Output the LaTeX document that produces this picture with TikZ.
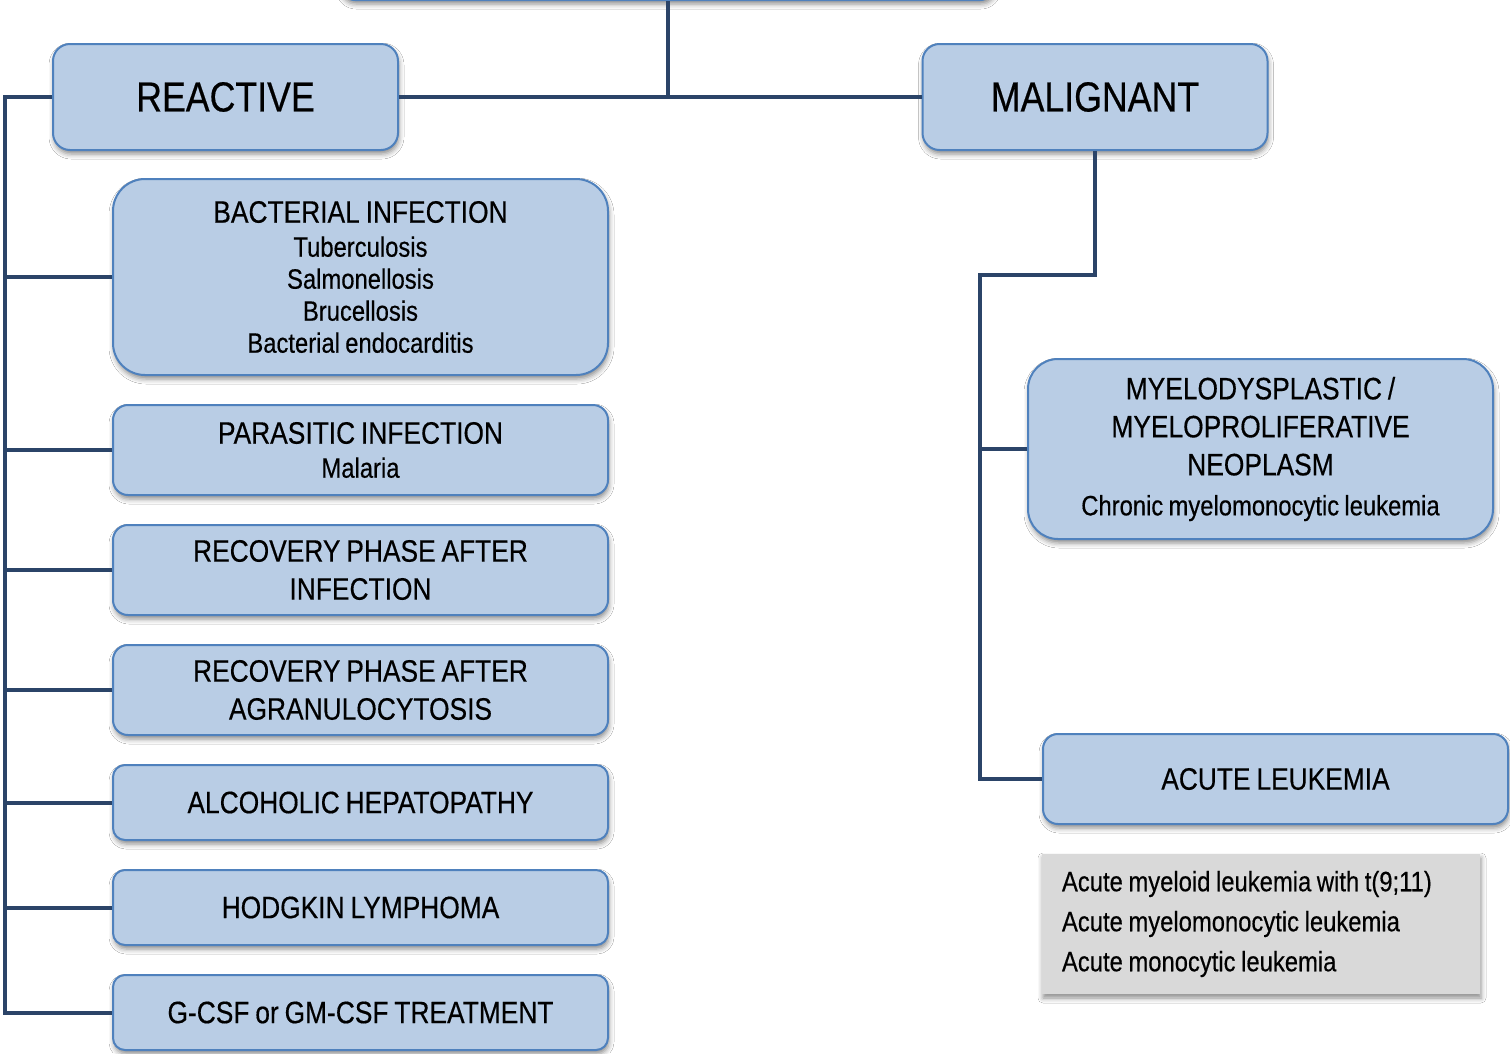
\documentclass[tikz,border=0pt]{standalone}
\usepackage{fontspec}
\setmainfont{Liberation Sans}[FakeStretch=0.85,WordSpace=0.8,FakeBold=0.4]
\usepackage{tikz}
\usetikzlibrary{positioning,calc,shadows.blur}
\definecolor{mFill}{HTML}{B9CDE5}
\definecolor{mEdge}{HTML}{4F81BD}
\definecolor{mLine}{HTML}{2B4468}
\definecolor{mGrey}{HTML}{D9D9D9}
\newcommand{\detailtext}[1]{{\fontsize{28}{32}\selectfont #1}}
\tikzset{
  shade/.style ={blur shadow={shadow xshift=1pt,shadow yshift=-4pt,shadow blur radius=5pt,shadow opacity=45}},
  cat/.style   ={rectangle,rounded corners=15pt,draw=mEdge,fill=mFill,line width=2pt,align=center,inner sep=2pt,shade},
  group/.style ={cat,minimum width=345pt,minimum height=106pt,rounded corners=17pt,font=\fontsize{42}{50}\selectfont},
  cause/.style ={cat,minimum width=495pt,font=\fontsize{31}{38}\selectfont},
  list/.style  ={rectangle,fill=mGrey,align=left,text width=398pt,minimum height=140pt,inner xsep=20pt,inner ysep=0pt,shade,
                 font=\fontsize{28}{40}\selectfont},
  link/.style  ={line width=4pt,mLine},
}

\begin{document}
\begin{tikzpicture}[x=1pt,y=1pt,node distance=28pt]
  \useasboundingbox (0,0) rectangle (1510,-1053);
  \fill[white] (0,0) rectangle (1510,-1053);
  \node[cat,minimum width=655pt,minimum height=60pt] (root) at (667.5,30) {};
  \node[group] (reactive) at (225.5,-97) {REACTIVE};
  \node[group] (malignant) at (1095,-97) {MALIGNANT};
  \node[cause,minimum height=196pt,rounded corners=32pt] (bact) at (360.5,-277)
        {BACTERIAL INFECTION\\[-4pt]\detailtext{Tuberculosis}\\[-6pt]\detailtext{Salmonellosis}\\[-6pt]
         \detailtext{Brucellosis}\\[-6pt]\detailtext{Bacterial endocarditis}};
  \node[cause,minimum height=90pt,below=of bact] (para)
        {PARASITIC INFECTION\\[-4pt]\detailtext{Malaria}};
  \node[cause,minimum height=90pt,below=of para] (recinf) {RECOVERY PHASE AFTER\\INFECTION};
  \node[cause,minimum height=90pt,below=of recinf] (recagr) {RECOVERY PHASE AFTER\\AGRANULOCYTOSIS};
  \node[cause,minimum height=75pt,rounded corners=12pt,below=of recagr] (alco) {ALCOHOLIC HEPATOPATHY};
  \node[cause,minimum height=75pt,rounded corners=12pt,below=of alco] (hodg) {HODGKIN LYMPHOMA};
  \node[cause,minimum height=75pt,rounded corners=12pt,below=of hodg] (gcsf) {G-CSF or GM-CSF TREATMENT};
  \node[cause,minimum width=465pt,minimum height=180pt,rounded corners=30pt] (mds) at (1260.5,-449)
        {MYELODYSPLASTIC /\\MYELOPROLIFERATIVE\\NEOPLASM\\[2pt]\detailtext{Chronic myelomonocytic leukemia}};
  \node[cause,minimum width=465pt,minimum height=90pt] (acute) at (1275.5,-779) {ACUTE LEUKEMIA};
  \node[list] (subtypes) at (1261,-924)
        {\spaceskip=0.2em\relax Acute myeloid leukemia with t(9;11)\\Acute myelomonocytic leukemia\\Acute monocytic leukemia};
  \coordinate (lspine) at (5,-97);
  \coordinate (rbend) at (980,-275);
  \draw[link] (root.south) -- (root.south |- reactive.east);
  \draw[link] (reactive) -- (malignant);
  \draw[link] (reactive.west) -- (lspine) |- (gcsf.west);
  \foreach \n in {bact,para,recinf,recagr,alco,hodg}
    \draw[link] (\n.west) -- (\n.west -| lspine);
  \draw[link] (malignant.south) |- (rbend) |- (acute.west);
  \draw[link] (mds.west) -- (mds.west -| rbend);
\end{tikzpicture}
\end{document}
